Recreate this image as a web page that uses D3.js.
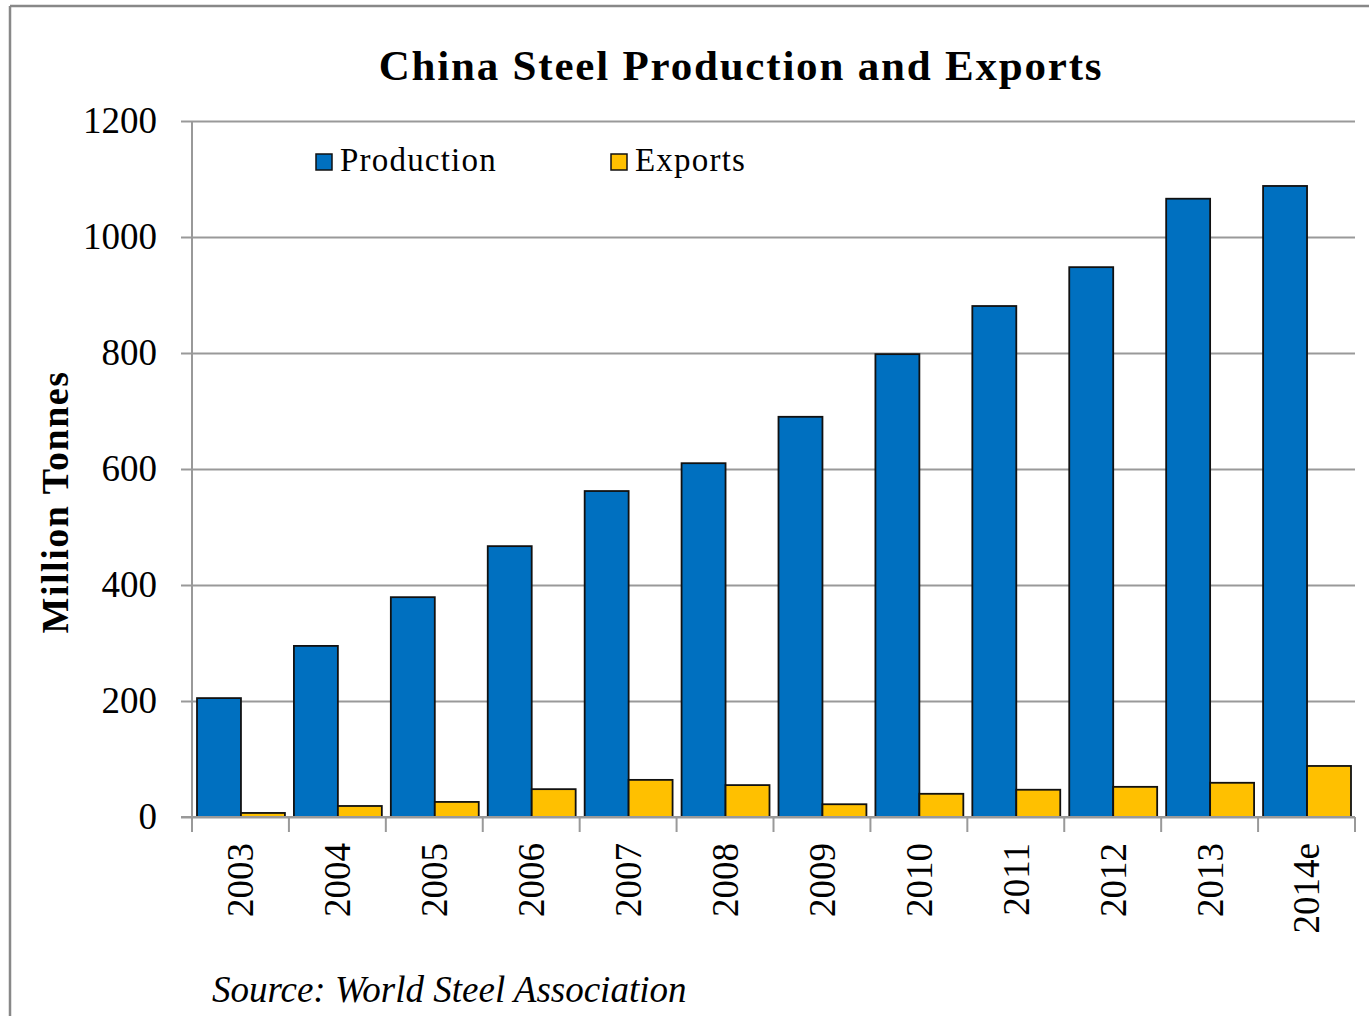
<!DOCTYPE html>
<html lang="en">
<head>
  <meta charset="UTF-8">
  <title>China Steel Production and Exports</title>
  <script src="https://d3js.org/d3.v7.min.js"></script>
  <style>
    body { margin: 0; background: #fff; }
    text { font-family: "Liberation Serif", "DejaVu Serif", serif; fill: #000; }
  </style>
</head>
<body>
  <svg id="chart" width="1369" height="1016"></svg>
  <script>
    const years = ['2003', '2004', '2005', '2006', '2007', '2008', '2009', '2010', '2011', '2012', '2013', '2014e'];
    const production = [205, 295, 379, 467, 562, 610, 690, 798, 881, 948, 1066, 1088];
    const exports_ = [7, 19, 26, 48, 64, 55, 22, 40, 47, 52, 59, 88];
    const yTicks = [0, 200, 400, 600, 800, 1000, 1200];
    const seriesNames = ['Production', 'Exports'];
    const colors = ['#0070C0', '#FFC000'];

    const svg = d3.select('#chart');
    const plotL = 192, plotR = 1355, plotT = 121, plotB = 817;

    // outer frame (only left and top edges visible)
    svg.append('line').attr('x1', 10).attr('x2', 10).attr('y1', 6).attr('y2', 1016)
      .attr('stroke', '#888').attr('stroke-width', 2.5);
    svg.append('line').attr('x1', 10).attr('x2', 1369).attr('y1', 6).attr('y2', 6)
      .attr('stroke', '#888').attr('stroke-width', 2.5);

    const x = d3.scaleBand().domain(years).range([plotL, plotR]);
    const x1 = d3.scaleBand().domain(seriesNames).range([5, x.bandwidth() - 4]);
    const y = d3.scaleLinear().domain([0, 1200]).range([plotB, plotT]);

    // gridlines + y axis
    const yAxis = d3.axisLeft(y).tickValues(yTicks).tickFormat(d3.format('d'))
      .tickSize(-(plotR - plotL)).tickSizeOuter(0).tickPadding(35);
    const gy = svg.append('g').attr('transform', `translate(${plotL},0)`).call(yAxis);
    gy.select('.domain').remove();
    gy.selectAll('.tick line').attr('stroke', '#999').attr('stroke-width', 2).attr('x1', -11);
    gy.selectAll('.tick text').style('font-size', '37px').attr('dy', '0.32em');
    svg.append('line').attr('x1', plotL).attr('x2', plotL).attr('y1', plotT).attr('y2', plotB + 15)
      .attr('stroke', '#999').attr('stroke-width', 2);

    // x axis
    const xAxis = d3.axisBottom(x).tickSize(0).tickPadding(0);
    const gx = svg.append('g').attr('transform', `translate(0,${plotB})`).call(xAxis);
    gx.select('.domain').remove();
    gx.selectAll('.tick text')
      .style('font-size', '37px')
      .attr('text-anchor', 'end')
      .attr('transform', 'rotate(-90)')
      .attr('x', -26).attr('y', 0).attr('dy', '0.35em');
    svg.append('g').selectAll('line').data(d3.range(years.length + 1)).join('line')
      .attr('x1', i => plotL + i * x.step()).attr('x2', i => plotL + i * x.step())
      .attr('y1', plotB).attr('y2', plotB + 15)
      .attr('stroke', '#999').attr('stroke-width', 2);

    // bars
    const rows = years.map((yr, i) => ({ yr, vals: [production[i], exports_[i]] }));
    const groups = svg.append('g').selectAll('g').data(rows).join('g')
      .attr('transform', d => `translate(${x(d.yr)},0)`);
    groups.selectAll('rect').data(d => d.vals.map((v, j) => ({ v, s: seriesNames[j], c: colors[j] })))
      .join('rect')
      .attr('x', d => x1(d.s))
      .attr('width', x1.bandwidth())
      .attr('y', d => y(d.v))
      .attr('height', d => y(0) - y(d.v))
      .attr('fill', d => d.c)
      .attr('stroke', '#111').attr('stroke-width', 1.8);

    // x baseline
    svg.append('line').attr('x1', plotL - 11).attr('x2', plotR).attr('y1', plotB).attr('y2', plotB)
      .attr('stroke', '#999').attr('stroke-width', 2);

    // title
    svg.append('text').attr('x', 741).attr('y', 80).attr('text-anchor', 'middle')
      .style('font-size', '43px').style('font-weight', 'bold').style('letter-spacing', '1.8px')
      .text('China Steel Production and Exports');

    // y axis title
    svg.append('text').attr('transform', 'translate(68,502) rotate(-90)')
      .attr('text-anchor', 'middle')
      .style('font-size', '38px').style('font-weight', 'bold').style('letter-spacing', '1.5px')
      .text('Million Tonnes');

    // legend
    const legendX = [316, 611];
    const lg = svg.append('g').selectAll('g').data(seriesNames).join('g')
      .attr('transform', (d, i) => `translate(${legendX[i]},154)`);
    lg.append('rect').attr('width', 16).attr('height', 16)
      .attr('fill', (d, i) => colors[i]).attr('stroke', '#111').attr('stroke-width', 1.5);
    lg.append('text').attr('x', 24).attr('y', 17).style('font-size', '33px').style('letter-spacing', '1.2px')
      .text(d => d);

    // source
    svg.append('text').attr('x', 212).attr('y', 1002)
      .style('font-size', '37px').style('font-style', 'italic')
      .text('Source: World Steel Association');
  </script>
</body>
</html>
